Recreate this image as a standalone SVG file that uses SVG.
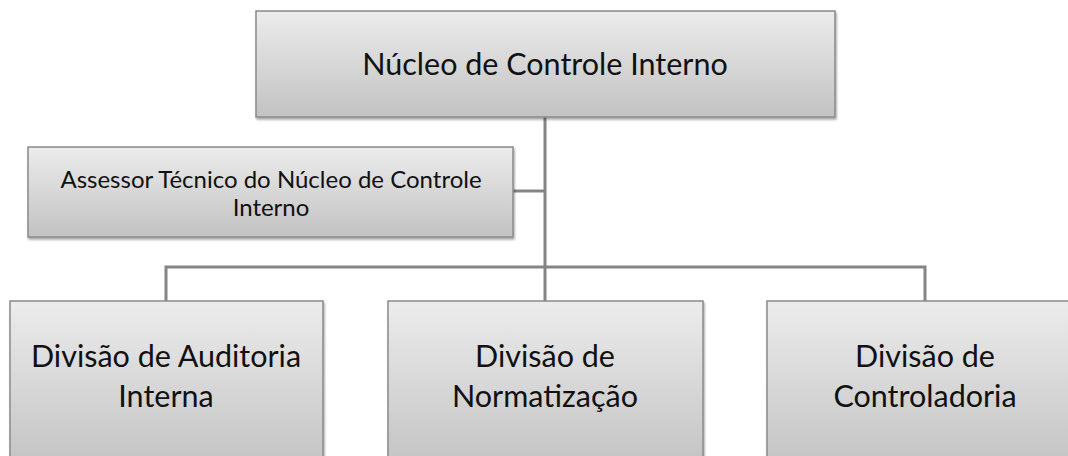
<svg xmlns="http://www.w3.org/2000/svg" width="1068" height="456" viewBox="0 0 1068 456">
<defs>
<linearGradient id="g" x1="0" y1="0" x2="0" y2="1">
<stop offset="0" stop-color="#ececec"/>
<stop offset="1" stop-color="#c2c2c2"/>
</linearGradient>
<filter id="sh" x="-5%" y="-5%" width="110%" height="115%">
<feGaussianBlur in="SourceAlpha" stdDeviation="1"/>
<feOffset dx="1" dy="2" result="b"/>
<feComponentTransfer><feFuncA type="linear" slope="0.35"/></feComponentTransfer>
<feMerge><feMergeNode/><feMergeNode in="SourceGraphic"/></feMerge>
</filter>
</defs>
<style>
.box{fill:url(#g);stroke:#8a8a8a;stroke-width:1.5;filter:url(#sh)}
.t{font-family:Lato,"Open Sans",sans-serif;fill:#111;text-anchor:middle}
.c{fill:none;stroke:#858585;stroke-width:3}
</style>
<rect width="1068" height="456" fill="#fff"/>
<g id="connectors">
<path class="c" d="M545 117V267"/>
<path class="c" d="M513 191H545"/>
<path class="c" d="M166 301V267H925V301"/>
<path class="c" d="M545 267V301"/>
</g>
<g id="n-nucleo">
<rect class="box" x="256" y="11" width="579" height="106"/>
<text class="t" x="545" y="75" font-size="30.5">Núcleo de Controle Interno</text>
</g>
<g id="n-assessor">
<rect class="box" x="28" y="147" width="485" height="90"/>
<text class="t" x="271" y="188" font-size="24">Assessor Técnico do Núcleo de Controle</text>
<text class="t" x="271" y="216" font-size="24">Interno</text>
</g>
<g id="n-auditoria">
<rect class="box" x="10" y="301" width="313" height="170"/>
<text class="t" x="166" y="367" font-size="30.5">Divisão de Auditoria</text>
<text class="t" x="166" y="407" font-size="30.5">Interna</text>
</g>
<g id="n-normatizacao">
<rect class="box" x="388" y="301" width="315" height="170"/>
<text class="t" x="545" y="367" font-size="30.5">Divisão de</text>
<text class="t" x="545" y="407" font-size="30.5">Normatização</text>
</g>
<g id="n-controladoria">
<rect class="box" x="767" y="301" width="317" height="170"/>
<text class="t" x="925" y="367" font-size="30.5">Divisão de</text>
<text class="t" x="925" y="407" font-size="30.5">Controladoria</text>
</g>
</svg>
